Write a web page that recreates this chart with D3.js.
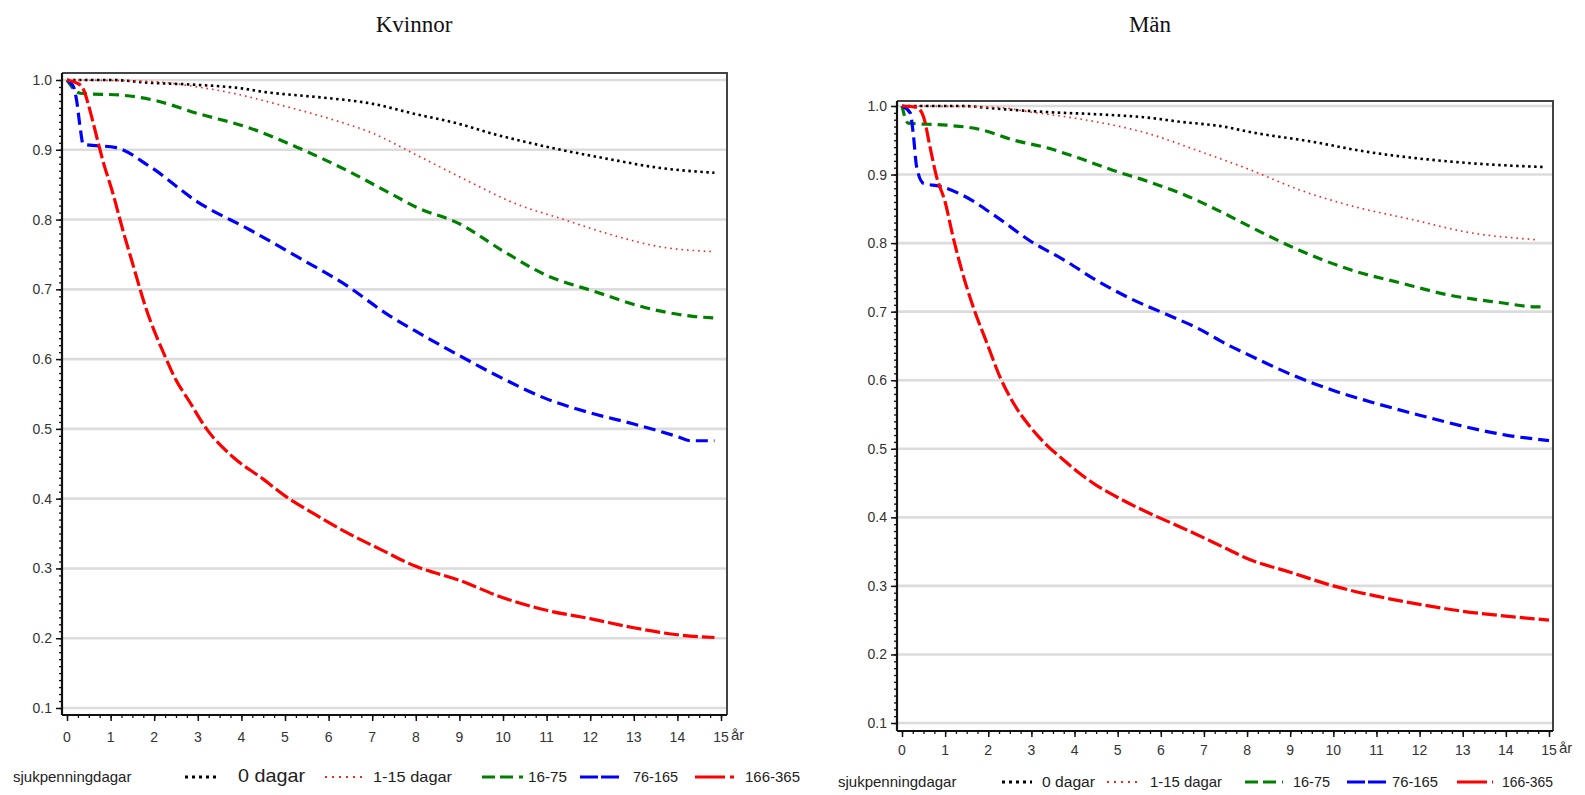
<!DOCTYPE html>
<html><head><meta charset="utf-8">
<script src="https://cdn.jsdelivr.net/npm/d3@7"></script>
<style>body{margin:0;background:#fff}svg{display:block}</style>
</head><body>
<svg id="c" width="1585" height="795"></svg>
<script>
// ---- data ----
const titles = ["Kvinnor", "Män"];
const seriesNames = ["0 dagar", "1-15 dagar", "16-75", "76-165", "166-365"];
const legendTitle = "sjukpenningdagar";
const xTicks = [0,1,2,3,4,5,6,7,8,9,10,11,12,13,14,15];
const yTicks = [0.1,0.2,0.3,0.4,0.5,0.6,0.7,0.8,0.9,1.0];
const xUnit = "år";

const kvinnor0 = [[0,1],[1,1],[1.9,0.996],[3,0.993],[4,0.988],[4.5,0.983],[5.3,0.978],[6,0.974],[7,0.966],[8,0.951],[9,0.937],[9.7,0.924],[10.4,0.913],[11.1,0.903],[12.4,0.887],[13.6,0.874],[14.85,0.867]];
const kvinnor1 = [[0,1],[1.9,0.998],[3,0.99],[3.8,0.981],[4.9,0.964],[6,0.945],[7,0.924],[8,0.893],[9.3,0.852],[10.2,0.825],[11.4,0.8],[12.5,0.778],[13.6,0.761],[14.85,0.754]];
const kvinnor2 = [[0,1],[0.3,0.981],[1.3,0.978],[2,0.971],[3,0.952],[4.2,0.931],[5.3,0.903],[6.4,0.871],[7.4,0.838],[8,0.818],[9,0.794],[10,0.755],[11,0.72],[12.1,0.697],[13.25,0.674],[14.4,0.661],[14.85,0.659]];
const kvinnor3 = [[0,1],[0.15,0.99],[0.22,0.971],[0.3,0.933],[0.37,0.908],[1.13,0.903],[1.9,0.876],[3,0.825],[4.2,0.785],[5.3,0.746],[6.4,0.706],[7.4,0.662],[8,0.64],[9,0.605],[10,0.572],[11,0.543],[12,0.523],[13,0.507],[14,0.489],[14.3,0.483],[14.85,0.483]];
const kvinnor4 = [[0,1],[0.3,0.993],[0.4,0.983],[0.48,0.967],[0.68,0.919],[0.82,0.885],[1.05,0.838],[1.28,0.785],[1.5,0.738],[1.8,0.675],[2.27,0.601],[2.5,0.57],[2.8,0.54],[3.2,0.5],[3.8,0.46],[4.5,0.428],[5,0.404],[5.7,0.377],[6.4,0.352],[7.2,0.327],[8,0.303],[9,0.283],[10,0.258],[11,0.24],[12,0.228],[13,0.215],[14,0.205],[14.85,0.201]];

const man0 = [[0,1],[1.4,1],[2.2,0.996],[3.4,0.991],[4.5,0.988],[5.7,0.983],[6.45,0.977],[7.45,0.97],[8.07,0.962],[9.5,0.948],[10.7,0.934],[11.9,0.924],[13.3,0.916],[14.9,0.911]];
const man1 = [[0,1],[2.2,0.998],[3,0.991],[4.5,0.977],[5.7,0.96],[6.85,0.935],[8.07,0.907],[9.2,0.878],[10.5,0.853],[11.85,0.834],[13.1,0.816],[14.7,0.805]];
const man2 = [[0,1],[0.14,0.975],[1.04,0.972],[1.8,0.966],[2.6,0.95],[3.36,0.939],[4.1,0.924],[4.9,0.906],[5.7,0.89],[6.45,0.873],[7.45,0.844],[8.07,0.824],[9.2,0.79],[10.4,0.761],[11.55,0.742],[12.7,0.724],[13.9,0.713],[14.7,0.707],[14.9,0.707]];
const man3 = [[0,1],[0.19,0.99],[0.26,0.96],[0.34,0.911],[0.5,0.887],[0.88,0.883],[1.4,0.87],[2.2,0.838],[3,0.802],[3.74,0.776],[4.5,0.746],[5.3,0.719],[6.06,0.698],[6.85,0.676],[7.6,0.65],[8,0.638],[9,0.609],[10,0.585],[11,0.566],[12,0.549],[13,0.533],[14,0.52],[15,0.512]];
const man4 = [[0,1],[0.34,0.998],[0.5,0.984],[0.65,0.94],[0.8,0.897],[1,0.86],[1.18,0.81],[1.4,0.757],[1.65,0.707],[1.97,0.654],[2.27,0.605],[2.6,0.565],[2.97,0.532],[3.36,0.505],[3.74,0.484],[4.1,0.465],[4.5,0.447],[5.06,0.427],[5.7,0.407],[6.45,0.386],[7.2,0.364],[7.6,0.352],[8,0.34],[9,0.32],[10,0.3],[11,0.285],[12,0.273],[13,0.263],[14,0.256],[15,0.25]];

// ---- styles ----
const styles = [
  {color:"#000000", width:2.6, dash:"2.5,3.5", lg:"3,4", lw:3},
  {color:"#ff2020", width:1.6, dash:"1.6,4", lg:"2,5", lw:2},
  {color:"#008000", width:3.2, dash:"10,6", lg:"13,5,13,6,4,60", lw:3.2},
  {color:"#0000ff", width:3.2, dash:"12,6", lg:"18,3,18,60", lw:3.2},
  {color:"#ff0000", width:3.2, dash:"15,4", lg:"30,5,4,60", lw:3.2}
];

const panels = [
  {title:titles[0], series:[kvinnor0,kvinnor1,kvinnor2,kvinnor3,kvinnor4],
   x0:67, x15:721, y1:80, y01:708, axX:62, axY:715, top:73, right:727, titleX:414, titleY:32,
   tickLabY:742, legY:782,
   leg:{title:13, samples:[[185,218],[325,362],[482,525],[580,620],[695,735]],
        texts:[[238,67,19],[373,79,15],[528,39,15],[633,45,15],[745,55,15]]}},
  {title:titles[1], series:[man0,man1,man2,man3,man4],
   x0:902, x15:1549, y1:106, y01:723, axX:897, axY:731, top:101, right:1553, titleX:1150, titleY:32,
   tickLabY:755, legY:787,
   leg:{title:838, samples:[[1002,1032],[1107,1140],[1245,1283],[1347,1387],[1457,1493]],
        texts:[[1042,53,15.5],[1150,72,15],[1293,37,15],[1392,46,15],[1502,51,15]]}}
];

const svg = d3.select("#c");
const font = "'Liberation Sans', Arial, sans-serif";

panels.forEach(p => {
  const x = d3.scaleLinear().domain([0,15]).range([p.x0, p.x15]);
  const y = d3.scaleLinear().domain([0.1,1.0]).range([p.y01, p.y1]);
  const g = svg.append("g");

  // title
  g.append("text").attr("x", p.titleX).attr("y", p.titleY).attr("text-anchor","middle")
    .attr("font-family","'Liberation Serif','Times New Roman',serif").attr("font-size",23)
    .attr("fill","#111").text(p.title);

  // grid
  g.selectAll(".grid").data(yTicks).join("line")
    .attr("x1", p.axX+1).attr("x2", p.right-1)
    .attr("y1", d=>y(d)).attr("y2", d=>y(d))
    .attr("stroke","#dcdcdc").attr("stroke-width",2.6);

  // frame top/right
  g.append("path").attr("d", `M${p.axX},${p.top}H${p.right}V${p.axY}`)
    .attr("fill","none").attr("stroke","#444").attr("stroke-width",2);

  // y axis
  const yMinor = d3.range(10, 101).map(i=>i/100);
  const gy = g.append("g").attr("transform",`translate(${p.axX},0)`)
    .call(d3.axisLeft(y).tickValues(yMinor).tickSize(3).tickFormat(""));
  gy.select(".domain").remove();
  gy.selectAll(".tick line").attr("stroke","#111").attr("stroke-width",1.3);
  const gy2 = g.append("g").attr("transform",`translate(${p.axX},0)`)
    .call(d3.axisLeft(y).tickValues(yTicks).tickSize(6).tickPadding(4).tickFormat(d3.format(".1f")));
  gy2.select(".domain").remove();
  gy2.selectAll(".tick line").attr("stroke","#111").attr("stroke-width",1.5);
  gy2.selectAll(".tick text").attr("font-family",font).attr("font-size",14).attr("fill","#333");
  g.append("line").attr("x1",p.axX).attr("x2",p.axX).attr("y1",p.top).attr("y2",p.axY)
    .attr("stroke","#111").attr("stroke-width",2.2);

  // x axis
  const xMinor = d3.range(0, 61).map(i=>i/4);
  const gx = g.append("g").attr("transform",`translate(0,${p.axY})`)
    .call(d3.axisBottom(x).tickValues(xMinor).tickSize(3).tickFormat(""));
  gx.select(".domain").remove();
  gx.selectAll(".tick line").attr("stroke","#111").attr("stroke-width",1.3);
  const gx2 = g.append("g").attr("transform",`translate(0,${p.axY})`)
    .call(d3.axisBottom(x).tickValues(xTicks).tickSize(6).tickFormat(""));
  gx2.select(".domain").remove();
  gx2.selectAll(".tick line").attr("stroke","#111").attr("stroke-width",1.5);
  g.selectAll(".xl").data(xTicks).join("text")
    .attr("x", d=>x(d)).attr("y", p.tickLabY).attr("text-anchor","middle")
    .attr("font-family",font).attr("font-size",14).attr("fill","#333").text(d=>d);
  g.append("text").attr("x", x(15)+10).attr("y", p.tickLabY-2)
    .attr("font-family",font).attr("font-size",15).attr("fill","#333").text(xUnit);
  g.append("line").attr("x1",p.axX).attr("x2",p.right).attr("y1",p.axY).attr("y2",p.axY)
    .attr("stroke","#111").attr("stroke-width",2.2);

  // curves
  const line = d3.line().x(d=>x(d[0])).y(d=>y(d[1])).curve(d3.curveMonotoneX);
  p.series.forEach((s,i) => {
    g.append("path").datum(s).attr("d", line).attr("fill","none")
      .attr("stroke", styles[i].color).attr("stroke-width", styles[i].width)
      .attr("stroke-dasharray", styles[i].dash);
  });

  // legend
  const lg = g.append("g");
  lg.append("text").attr("x", p.leg.title).attr("y", p.legY)
    .attr("font-family",font).attr("font-size",15).attr("fill","#222").text(legendTitle);
  seriesNames.forEach((n,i) => {
    const [a,b] = p.leg.samples[i];
    lg.append("line").attr("x1",a).attr("x2",b).attr("y1",p.legY-5).attr("y2",p.legY-5)
      .attr("stroke",styles[i].color).attr("stroke-width",styles[i].lw)
      .attr("stroke-dasharray",styles[i].lg);
    const [tx, tw, fs] = p.leg.texts[i];
    lg.append("text").attr("x", tx).attr("y", p.legY)
      .attr("font-family",font).attr("font-size", fs).attr("fill","#222")
      .attr("textLength", tw).attr("lengthAdjust","spacingAndGlyphs").text(n);
  });
});
</script>
</body></html>
